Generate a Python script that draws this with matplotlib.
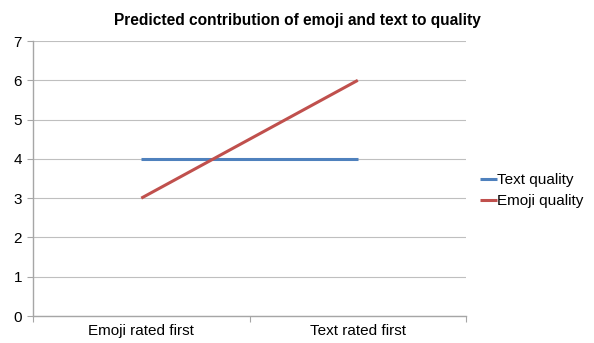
import matplotlib.pyplot as plt

plt.rcParams['font.family'] = ['Liberation Sans', 'DejaVu Sans']

categories = ['Emoji rated first', 'Text rated first']
text_quality = [4, 4]
emoji_quality = [3, 6]
y_ticks = [0, 1, 2, 3, 4, 5, 6, 7]

fig = plt.figure(figsize=(5.94, 3.43), dpi=100)
ax = fig.add_axes([0.0556, 0.0787, 0.7290, 0.8017])

xs = [0.5, 1.5]
ax.plot(xs, text_quality, color='#4F81BD', lw=2.2, label='Text quality', solid_capstyle='butt')
ax.plot(xs, emoji_quality, color='#C0504D', lw=2.2, label='Emoji quality', solid_capstyle='butt')

ax.set_xlim(0, 2)
ax.set_ylim(0, 7)
ax.set_yticks(y_ticks)
ax.set_xticks([0, 1, 2])
ax.set_xticklabels([])
ax.set_xticks(xs, minor=True)
ax.set_xticklabels(categories, minor=True)
ax.tick_params(axis='x', which='minor', length=0, pad=6, labelsize=11)
ax.tick_params(axis='x', which='major', length=4, color='#A6A6A6', direction='out')
ax.tick_params(axis='y', length=4, color='#A6A6A6', direction='out', labelsize=11, pad=4)

ax.grid(axis='y', color='#BFBFBF', lw=0.8)
ax.set_axisbelow(True)
for s in ['top', 'right']:
    ax.spines[s].set_visible(False)
for s in ['left', 'bottom']:
    ax.spines[s].set_color('#A6A6A6')
    ax.spines[s].set_linewidth(1)

fig.suptitle('Predicted contribution of emoji and text to quality',
             fontsize=11.2, fontweight='bold', x=0.5, y=0.963)

ax.legend(loc='center left', bbox_to_anchor=(1.018, 0.455), frameon=False,
          fontsize=11, handlelength=1.1, handletextpad=0.0, labelspacing=0.45,
          borderaxespad=0)

fig.savefig('out.png', dpi=100)
